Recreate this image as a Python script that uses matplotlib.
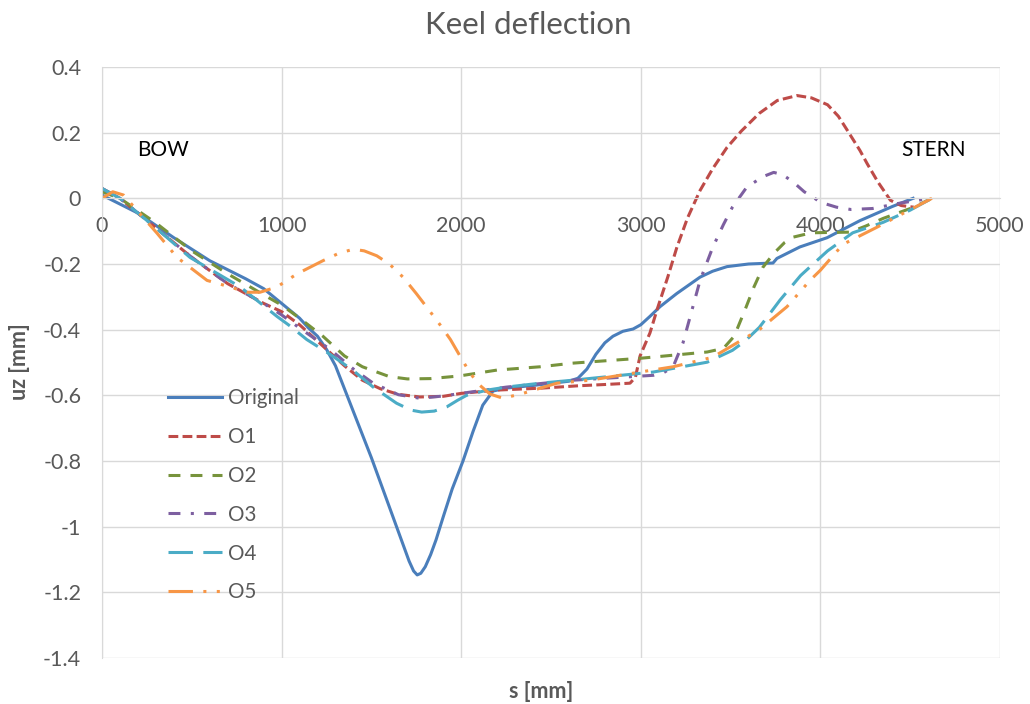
import matplotlib
matplotlib.use("Agg")
import matplotlib.pyplot as plt

plt.rcParams['font.family'] = ['Lato', 'DejaVu Sans']

# Keel deflection uz [mm] along the keel s [mm]
s_original = [0, 200, 400, 600, 800, 900, 1000, 1100, 1150, 1200, 1250, 1300, 1350, 1400,
              1450, 1500, 1550, 1600, 1650, 1680, 1710, 1735, 1755, 1775, 1800, 1830, 1860,
              1900, 1950, 2010, 2066, 2120, 2177, 2250, 2400, 2600, 2650, 2700, 2750, 2800,
              2845, 2900, 2957, 3000, 3050, 3107, 3200, 3330, 3400, 3480, 3600, 3736, 3758,
              3886, 4037, 4220, 4400, 4516]
uz_original = [0.01, -0.045, -0.12, -0.19, -0.245, -0.275, -0.32, -0.365, -0.395, -0.42,
               -0.46, -0.51, -0.58, -0.65, -0.72, -0.79, -0.865, -0.94, -1.015, -1.06, -1.105,
               -1.135, -1.147, -1.142, -1.122, -1.085, -1.04, -0.97, -0.885, -0.80, -0.71,
               -0.63, -0.587, -0.578, -0.57, -0.557, -0.548, -0.52, -0.475, -0.44, -0.42,
               -0.405, -0.398, -0.385, -0.36, -0.33, -0.29, -0.24, -0.222, -0.208, -0.2,
               -0.197, -0.183, -0.148, -0.12, -0.068, -0.025, 0.0]

s_o1 = [0, 100, 300, 500, 700, 900, 1000, 1100, 1230, 1350, 1450, 1550, 1650, 1770, 1900,
        2000, 2200, 2450, 2650, 2800, 2940, 2970, 2996, 3051, 3090, 3150, 3201, 3260, 3330,
        3400, 3480, 3560, 3660, 3760, 3870, 3950, 4040, 4100, 4150, 4220, 4260, 4320, 4390,
        4450, 4520]
uz_o1 = [0.03, 0.0, -0.09, -0.18, -0.26, -0.32, -0.345, -0.385, -0.45, -0.51, -0.554, -0.58,
         -0.597, -0.605, -0.603, -0.594, -0.584, -0.578, -0.571, -0.567, -0.563, -0.545, -0.48,
         -0.41, -0.34, -0.24, -0.149, -0.06, 0.024, 0.09, 0.155, 0.205, 0.259, 0.298, 0.313,
         0.306, 0.285, 0.25, 0.207, 0.146, 0.106, 0.05, -0.006, -0.022, -0.027]

s_o2 = [0, 100, 300, 500, 700, 920, 1000, 1100, 1230, 1350, 1450, 1600, 1700, 1830, 1990,
        2200, 2440, 2620, 3000, 3370, 3460, 3520, 3580, 3630, 3680, 3740, 3800, 3850, 3950,
        4040, 4165, 4250, 4350, 4520, 4620]
uz_o2 = [0.02, 0.0, -0.075, -0.16, -0.23, -0.30, -0.325, -0.365, -0.42, -0.48, -0.513, -0.543,
         -0.55, -0.549, -0.541, -0.523, -0.513, -0.502, -0.487, -0.468, -0.457, -0.42, -0.34,
         -0.27, -0.21, -0.168, -0.135, -0.118, -0.105, -0.104, -0.103, -0.085, -0.061, -0.027,
         0.0]

s_o3 = [0, 100, 300, 500, 700, 900, 1000, 1100, 1270, 1400, 1510, 1650, 1770, 1900, 2000,
        2250, 2620, 3070, 3130, 3180, 3235, 3290, 3330, 3400, 3460, 3510, 3590, 3680, 3740,
        3790, 3850, 3910, 3960, 4000, 4090, 4170, 4290, 4440, 4610]
uz_o3 = [0.03, 0.0, -0.09, -0.18, -0.26, -0.32, -0.355, -0.395, -0.46, -0.52, -0.563, -0.598,
         -0.609, -0.602, -0.594, -0.575, -0.554, -0.539, -0.53, -0.513, -0.44, -0.33, -0.25,
         -0.15, -0.08, -0.027, 0.034, 0.066, 0.079, 0.072, 0.049, 0.02, 0.003, -0.012, -0.027,
         -0.034, -0.031, -0.015, 0.0]

s_o4 = [0, 100, 300, 490, 770, 975, 1050, 1140, 1270, 1400, 1510, 1640, 1720, 1780, 1850,
        1920, 1980, 2030, 2145, 2250, 2440, 2620, 3070, 3370, 3510, 3580, 3660, 3720, 3775,
        3890, 4040, 4180, 4350, 4500, 4620]
uz_o4 = [0.03, 0.0, -0.09, -0.18, -0.27, -0.36, -0.39, -0.43, -0.475, -0.525, -0.575, -0.624,
         -0.645, -0.651, -0.648, -0.635, -0.615, -0.6, -0.584, -0.575, -0.563, -0.554, -0.529,
         -0.499, -0.463, -0.435, -0.393, -0.35, -0.31, -0.235, -0.16, -0.105, -0.073, -0.036,
         0.0]

s_o5 = [0, 60, 120, 200, 306, 418, 585, 713, 807, 880, 974, 1086, 1230, 1320, 1400, 1460,
        1530, 1600, 1676, 1750, 1820, 1882, 1940, 1993, 2050, 2105, 2160, 2233, 2344, 2533,
        2717, 2996, 3180, 3400, 3660, 3814, 3942, 4000, 4126, 4315, 4460, 4621]
uz_o5 = [0.0, 0.02, 0.01, -0.04, -0.106, -0.18, -0.25, -0.27, -0.286, -0.286, -0.27, -0.23,
         -0.19, -0.167, -0.155, -0.16, -0.175, -0.2, -0.24, -0.29, -0.34, -0.385, -0.43, -0.48,
         -0.533, -0.57, -0.596, -0.609, -0.594, -0.563, -0.554, -0.529, -0.513, -0.484, -0.40,
         -0.33, -0.25, -0.219, -0.14, -0.088, -0.046, 0.0]

series_names = ["Original", "O1", "O2", "O3", "O4", "O5"]
x_ticks = [0, 1000, 2000, 3000, 4000, 5000]
y_ticks = [0.4, 0.2, 0, -0.2, -0.4, -0.6, -0.8, -1, -1.2, -1.4]

text_gray = "#595959"
grid_gray = "#D9D9D9"
lw = 2.2
fs = 15.5

fig = plt.figure(figsize=(10.30, 7.04), dpi=100)
ax = fig.add_axes([102 / 1030, 1 - 658 / 704, 898 / 1030, 591 / 704])

ax.plot(s_original, uz_original, color="#4A7EBB", lw=lw, ls="-", label=series_names[0])
ax.plot(s_o1, uz_o1, color="#BE4B48", lw=lw, ls=(0, (3.2, 1.4)), label=series_names[1])
ax.plot(s_o2, uz_o2, color="#77933C", lw=lw, ls=(0, (3.9, 3.3)), label=series_names[2])
ax.plot(s_o3, uz_o3, color="#7D5FA0", lw=lw, ls=(0, (3.9, 3.4, 1, 3.4)), label=series_names[3])
ax.plot(s_o4, uz_o4, color="#4BACC6", lw=lw, ls=(0, (8, 3.4)), label=series_names[4])
ax.plot(s_o5, uz_o5, color="#F79646", lw=lw, ls=(0, (8, 3.4, 1, 3.4, 1, 3.4)), label=series_names[5])

ax.set_xlim(0, 5000)
ax.set_ylim(-1.4, 0.4)
ax.set_xticks(x_ticks)
ax.set_yticks(y_ticks)
ax.set_xticklabels([str(v) for v in x_ticks])
ax.set_yticklabels([f"{v:g}" for v in y_ticks])

ax.grid(True, color=grid_gray, lw=1.0)
ax.set_axisbelow(True)
for side in ("top", "right"):
    ax.spines[side].set_visible(False)
ax.spines["left"].set_color(grid_gray)
ax.spines["bottom"].set_color(grid_gray)
ax.spines["bottom"].set_position(("data", 0))

ax.tick_params(axis="both", length=0, labelsize=fs, colors=text_gray)
ax.tick_params(axis="x", pad=13)
ax.tick_params(axis="y", pad=15)

fig.text(541 / 1030, 1 - 691 / 704, "s [mm]", fontsize=fs, fontweight="bold",
         color=text_gray, ha="center", va="center")
fig.text(20 / 1030, 1 - 362 / 704, "uz [mm]", fontsize=fs, fontweight="bold",
         color=text_gray, ha="center", va="center", rotation=90)

fig.text(528 / 1030, 1 - 25 / 704, "Keel deflection", ha="center", va="center",
         fontsize=22.5, color=text_gray)

ax.text(195, 0.146, "BOW", fontsize=15, color="black", va="center")
ax.text(4449, 0.146, "STERN", fontsize=15, color="black", va="center")

leg = ax.legend(loc="upper left", bbox_to_anchor=(0.0735, 0.457), frameon=False,
                fontsize=14.8, handlelength=2.65, handletextpad=0.27, labelspacing=0.92,
                borderpad=0, borderaxespad=0, labelcolor=text_gray)

fig.savefig("out.png", dpi=100, facecolor="white")
